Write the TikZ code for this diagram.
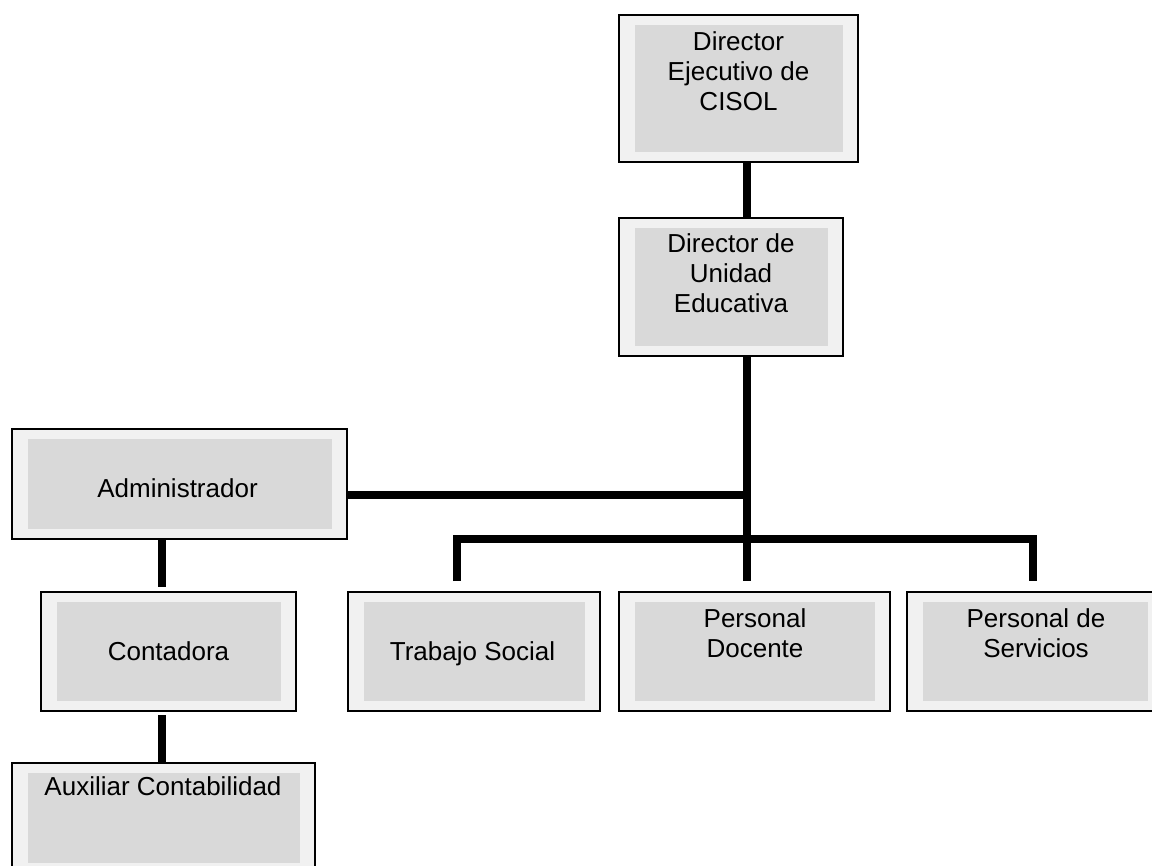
\documentclass[tikz,border=0pt]{standalone}
\usepackage{fontspec}
\setmainfont{Liberation Sans}
\definecolor{boxlight}{HTML}{F1F1F1}
\definecolor{boxshade}{HTML}{D9D9D9}
\begin{document}
\begin{tikzpicture}[x=1pt,y=-1pt,
  orgbox/.style={draw=black, line width=2pt, fill=boxlight, inner sep=0pt, outer sep=0pt,
    path picture={\fill[boxshade]
      ([xshift=16pt,yshift=-10pt]path picture bounding box.north west) rectangle
      ([xshift=-15pt,yshift=10pt]path picture bounding box.south east);}},
  boxtext/.style={font=\fontsize{26}{30}\selectfont, align=center, inner sep=0pt, text=black},
  link/.style={line width=8pt, line join=miter}
]
\useasboundingbox (0,0) rectangle (1152,866);
\clip (0,0) rectangle (1152,866);

% boxes
\node[orgbox, minimum width=239pt, minimum height=147pt] (de)   at (738.5,88.5) {};
\node[orgbox, minimum width=224pt, minimum height=138pt] (du)   at (731,287) {};
\node[orgbox, minimum width=335pt, minimum height=110pt] (adm)  at (179.5,484) {};
\node[orgbox, minimum width=255pt, minimum height=119pt] (cont) at (168.5,651.5) {};
\node[orgbox, minimum width=252pt, minimum height=119pt] (ts)   at (474,651.5) {};
\node[orgbox, minimum width=271pt, minimum height=119pt] (pd)   at (754.5,651.5) {};
\node[orgbox, minimum width=256pt, minimum height=119pt] (ps)   at (1035,651.5) {};
\node[orgbox, minimum width=303pt, minimum height=110pt] (aux)  at (163.5,818) {};

% labels
\node[boxtext, anchor=north] (detext)   at (738.5,31) {Director\\Ejecutivo de\\CISOL};
\node[boxtext, anchor=north] (dutext)   at (731,233) {Director de\\Unidad\\Educativa};
\node[boxtext, anchor=base]  (admtext)  at (177.5,498) {Administrador};
\node[boxtext, anchor=base]  (conttext) at (168.5,660) {Contadora};
\node[boxtext, anchor=base]  (tstext)   at (472.5,660) {Trabajo Social};
\node[boxtext, anchor=north] (pdtext)   at (755,608) {Personal\\Docente};
\node[boxtext, anchor=north] (pstext)   at (1036,608) {Personal de\\Servicios};
\node[boxtext, anchor=base]  (auxtext)  at (163,795) {Auxiliar Contabilidad};

% connector guides
\coordinate (trunk) at (747,0);
\coordinate (sub)   at (162,0);
\coordinate (hub)   at (747,581);
\coordinate (admj)  at (747,495);
\coordinate (bar)   at (0,539);
\coordinate (bl)    at (457,581);
\coordinate (br)    at (1033,581);
\coordinate (contin)  at (162,587);
\coordinate (contout) at (162,715);

% connectors
\draw[link] (de.south -| trunk) -- (du.north -| trunk);
\draw[link] (du.south -| trunk) -- (hub);
\draw[link] (adm.east |- admj) -- (admj);
\draw[link] (bl) -- (bl |- bar) -- (br |- bar) -- (br);
\draw[link] (adm.south -| sub) -- (contin);
\draw[link] (contout) -- (aux.north -| sub);
\end{tikzpicture}
\end{document}
